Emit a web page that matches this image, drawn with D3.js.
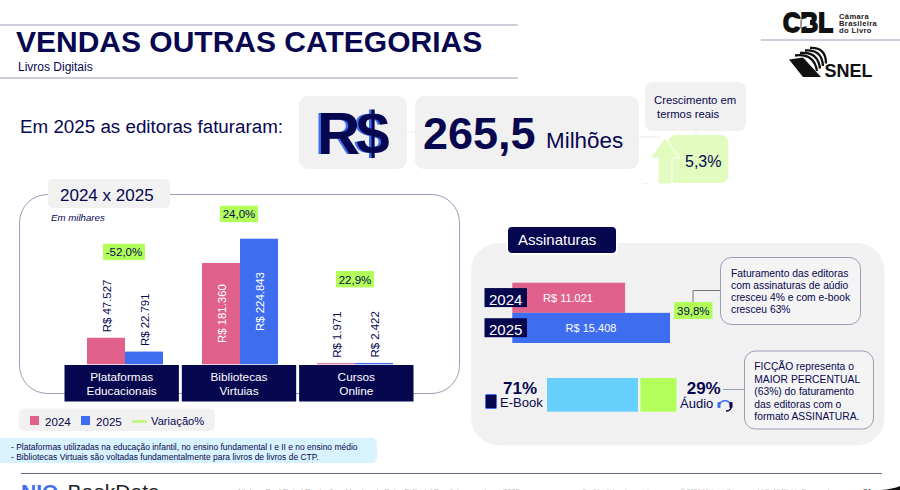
<!DOCTYPE html>
<html>
<head>
<meta charset="utf-8">
<script src="https://cdn.jsdelivr.net/npm/d3@7"></script>
<style>
  html, body { margin: 0; padding: 0; background: #fff; overflow: hidden; }
  svg { display: block; }
  text { font-family: "Liberation Sans", Arial, sans-serif; fill: #0a0a50; }
</style>
</head>
<body>
<div id="container"></div>
<script>
// data
var categories = ['Plataformas Educacionais', 'Bibliotecas Virtuais', 'Cursos Online'];
var categoryLines = [['Plataformas', 'Educacionais'], ['Bibliotecas', 'Virtuias'], ['Cursos', 'Online']];
var years = ['2024', '2025'];
var values2024 = [47527, 181360, 1971];
var values2025 = [22791, 224843, 2422];
var labels2024 = ['R$ 47.527', 'R$ 181.360', 'R$ 1.971'];
var labels2025 = ['R$ 22.791', 'R$ 224.843', 'R$ 2.422'];
var variation = ['-52,0%', '24,0%', '22,9%'];
var subsYears = ['2024', '2025'];
var subsValues = [11021, 15408];
var subsLabels = ['R$ 11.021', 'R$ 15.408'];
var formats = ['E-Book', 'Áudio'];
var formatShares = [71, 29];
var legendItems = ['2024', '2025', 'Variação%'];

var navy = '#07074f', pink = '#e0628c', blue = '#3e6df0', lime = '#b2ff59', sky = '#66cffc', panel = '#f1f1f1', rule = '#9c9cba';

var svg = d3.select('div#container').append('svg').attr('width', 900).attr('height', 490);

function box(x, y, w, h, r, fill, stroke) {
  return svg.append('rect').attr('x', x).attr('y', y).attr('width', w).attr('height', h).attr('rx', r)
    .attr('fill', fill).attr('stroke', stroke || 'none');
}
function label(x, y, str, size, opts) {
  opts = opts || {};
  return svg.append('text').attr('x', x).attr('y', y).text(str).style('font-size', size + 'px')
    .attr('text-anchor', opts.anchor || 'start').style('font-weight', opts.weight || 'normal')
    .style('font-style', opts.style || 'normal').style('fill', opts.fill || navy);
}
function line(x1, y1, x2, y2, color, w) {
  svg.append('line').attr('x1', x1).attr('y1', y1).attr('x2', x2).attr('y2', y2)
    .attr('stroke', color || rule).attr('stroke-width', w || 1);
}

// header
line(0, 25, 518, 25, rule, 1.2);
line(0, 78, 518, 78, rule, 1.2);
label(16, 52, 'VENDAS OUTRAS CATEGORIAS', 30, {weight: 'bold'});
label(18, 71, 'Livros Digitais', 12);
line(761, 40, 900, 40, rule, 1.2);

// CBL logo
label(783, 32, 'CBL', 27, {weight: 'bold', fill: '#111'})
  .attr('textLength', 50).attr('lengthAdjust', 'spacingAndGlyphs')
  .style('stroke', '#111').style('stroke-width', 1.8);
svg.append('path').attr('fill', '#fff').attr('d', 'M792 19Q797 17 801 20Q805 17 810 19L810 27Q805 25 801 28Q797 25 792 27Z');
line(801, 20, 801, 28, '#111', 0.8);
label(839, 19, 'Câmara', 7.6, {weight: 'bold', fill: '#222'}).style('letter-spacing', '0.35px');
label(839, 26, 'Brasileira', 7.6, {weight: 'bold', fill: '#222'}).style('letter-spacing', '0.35px');
label(839, 33, 'do Livro', 7.6, {weight: 'bold', fill: '#222'}).style('letter-spacing', '0.35px');
// SNEL logo
svg.append('path').attr('fill', '#111').attr('d', 'M789 59.5L803 57.5L821 77L803 77Z');
[0, 1, 2, 3].forEach(function(i) {
  svg.append('path').attr('fill', 'none').attr('stroke', '#111').attr('stroke-width', 2.3)
    .attr('d', 'M' + (795 + i * 5) + ' ' + (55.5 - i * 2.5) + 'Q' + (814 + i * 4) + ' ' + (53 - i * 2) + ' ' + (817 + i * 3) + ' ' + (71 - i * 2.5));
});
label(824.5, 76.7, 'SNEL', 18, {weight: 'bold', fill: '#111'});

// headline figures
label(20, 133, 'Em 2025 as editoras faturaram:', 18.8);
line(406, 132, 416, 132, panel, 1.5);
line(638, 137, 660, 137, panel, 1.5);
line(696, 130, 696, 135, panel, 1.5);
line(642, 183.5, 648, 183.5, panel, 1);
box(299, 96, 108, 73, 9, panel);
box(415, 96, 224, 73, 9, panel);
label(314.5, 154, 'R$', 60, {weight: 'bold', fill: blue}).style('letter-spacing', '-4px');
label(317, 154, 'R$', 60, {weight: 'bold'}).style('letter-spacing', '-4px');
label(423, 148.5, '265,5', 45, {weight: 'bold'});
label(546, 148, 'Milhões', 22.4);
box(645, 82, 101, 49, 8, panel);
label(654, 103.5, 'Crescimento em', 11.3);
label(657, 117.5, 'termos reais', 11.3);
box(668, 135, 60.5, 48, 8, '#e2fcc0');
svg.append('path').attr('fill', '#e2fcc0').attr('stroke', '#fff').attr('stroke-width', 1)
  .attr('d', 'M665 138L680 158L672 158L672 184L658 184L658 158L650 158Z');
label(685, 166.7, '5,3%', 16);

// 2024 x 2025 panel
box(19.5, 194.5, 440, 199, 28, '#fff', rule);
box(48, 179, 122, 29, 5, panel);
label(60, 201, '2024 x 2025', 17);
label(51, 221, 'Em milhares', 9.7, {style: 'italic'});

var x0 = d3.scaleBand().domain(categories).range([67.5, 412.5]);
var x1 = d3.scaleBand().domain(years).range([19.5, 95.5]);
var y = d3.scaleLinear().domain([0, 224843]).range([364.3, 238.7]);
var yearColor = d3.scaleOrdinal().domain(years).range([pink, blue]);

categories.forEach(function(cat, i) {
  var cells = [
    {year: '2024', value: values2024[i], text: labels2024[i]},
    {year: '2025', value: values2025[i], text: labels2025[i]}
  ];
  var g = svg.append('g').attr('transform', 'translate(' + x0(cat) + ',0)');
  g.selectAll('rect').data(cells).enter().append('rect')
    .attr('x', function(d) { return x1(d.year); })
    .attr('y', function(d) { return y(d.value); })
    .attr('width', x1.bandwidth())
    .attr('height', function(d) { return y(0) - y(d.value); })
    .attr('fill', function(d) { return yearColor(d.year); });
  g.selectAll('text').data(cells).enter().append('text')
    .attr('transform', function(d) {
      var cx = x1(d.year) + x1.bandwidth() / 2 + 4.5;
      // tall bars carry the label inside, short ones above
      var py = d.value > 100000 ? (y(d.value) + y(0)) / 2 : y(d.value) - 5.5;
      return 'translate(' + cx + ',' + py + ') rotate(-90)';
    })
    .attr('text-anchor', function(d) { return d.value > 100000 ? 'middle' : 'start'; })
    .style('font-size', '11.4px')
    .style('fill', function(d) { return d.value > 100000 ? '#fff' : navy; })
    .text(function(d) { return d.text; });
});

// category boxes
var xBox = d3.scaleBand().domain(categories).range([64.5, 413.5]).paddingInner(0.025);
var catG = svg.selectAll('g.cat').data(categories).enter().append('g').attr('class', 'cat')
  .attr('transform', function(d) { return 'translate(' + xBox(d) + ',0)'; });
catG.append('rect').attr('y', 365).attr('width', xBox.bandwidth()).attr('height', 36.5).attr('fill', navy);
catG.each(function(d, i) {
  var g = d3.select(this);
  categoryLines[i].forEach(function(t, j) {
    g.append('text').attr('x', xBox.bandwidth() / 2).attr('y', 381 + j * 14).attr('text-anchor', 'middle')
      .style('font-size', '11.8px').style('fill', '#fff').text(t);
  });
});

// variation tags
var tagX = [124, 239, 355], tagY = [251.7, 213.7, 279];
variation.forEach(function(v, i) {
  var w = i === 0 ? 42 : 38;
  box(tagX[i] - w / 2, tagY[i] - 8, w, 16.4, 0, lime);
  label(tagX[i], tagY[i] + 4.5, v, 11.5, {anchor: 'middle'});
});

// legend
box(19, 408.5, 196, 22.5, 5, panel);
box(30, 416, 9, 9, 0, pink);
label(45, 426, legendItems[0], 11.6);
box(81, 416, 9, 9, 0, blue);
label(96, 426, legendItems[1], 11.6);
box(132, 420, 15, 3, 0, '#c4f58c');
label(151, 425, legendItems[2], 11.2);

// notes
box(-10, 438, 387, 25, 5, '#d9f3fe');
label(11, 450, '- Plataformas utilizadas na educação infantil, no ensino fundamental I e II e no ensino médio', 8.47);
label(11, 460, '- Bibliotecas Virtuais são voltadas fundamentalmente para livros de livros de CTP.', 8.5);

// assinaturas panel
box(471, 243, 413.5, 202.5, 28, panel);
box(507, 226, 110, 28, 5, navy, '#fff').attr('stroke-width', 2);
label(518, 245, 'Assinaturas', 15, {fill: '#fff'});

var xs = d3.scaleLinear().domain([0, 15408]).range([512.3, 670]);
var ys = d3.scaleBand().domain(subsYears).range([282.7, 343]);
svg.selectAll('rect.subs').data(subsValues).enter().append('rect').attr('class', 'subs')
  .attr('x', xs(0))
  .attr('y', function(d, i) { return ys(subsYears[i]); })
  .attr('width', function(d) { return xs(d) - xs(0); })
  .attr('height', ys.bandwidth())
  .attr('fill', function(d, i) { return yearColor(subsYears[i]); });
var subsLabelX = [568, 591];
subsYears.forEach(function(yr, i) {
  var yy = ys(yr) + ys.bandwidth() / 2;
  box(484.5, yy - 9.7, 42.5, 19, 0, navy);
  label(505.7, yy + 7, yr, 15, {anchor: 'middle', fill: '#fff'});
  label(subsLabelX[i], yy + 4.5, subsLabels[i], 11, {anchor: 'middle', fill: '#fff'});
});
box(674, 302, 38.5, 17, 0, lime);
label(693.3, 314.8, '39,8%', 11.5, {anchor: 'middle'});
line(693, 302, 693, 290.5, '#777', 1);
line(693, 290.5, 720, 290.5, '#777', 1);
box(720.5, 257.5, 140, 67, 11, '#f4f4f4', rule);
['Faturamento das editoras', 'com assinaturas de aúdio', 'cresceu 4% e com e-book', 'cresceu 63%'].forEach(function(t, i) {
  label(731, 277 + i * 12.1, t, 10.3);
});

// e-book x audio
var xf = d3.scaleLinear().domain([0, 100]).range([547, 676.5]);
var acc = 0;
formatShares.forEach(function(v, i) {
  svg.append('rect').attr('x', xf(acc) + (i ? 1.5 : 0)).attr('y', 378).attr('width', xf(v) - xf(0) - (i ? 1.5 : 1)).attr('height', 33.7)
    .attr('fill', i === 0 ? sky : lime);
  acc += v;
});
label(520, 394, formatShares[0] + '%', 17, {anchor: 'middle', weight: 'bold'});
label(500, 406.7, formats[0], 13);
box(485.5, 394.5, 11, 14, 1, navy, blue);
label(686.7, 394, formatShares[1] + '%', 17, {weight: 'bold'});
label(680, 408, formats[1], 13);
svg.append('path').attr('fill', 'none').attr('stroke', blue).attr('stroke-width', 1.4)
  .attr('d', 'M719 405A6.5 7 0 0 1 731 405');
svg.append('path').attr('fill', 'none').attr('stroke', navy).attr('stroke-width', 1.4)
  .attr('d', 'M731 405L731 408Q730 411 726 411');
box(717.5, 402, 3, 6, 1, blue);
box(729.5, 402, 3, 6, 1, navy);
line(723, 389.5, 744, 389.5, rule, 1);
box(744.5, 351, 129, 78, 11, '#f4f4f4', rule);
['FICÇÃO representa o', 'MAIOR PERCENTUAL', '(63%) do faturamento', 'das editoras com o', 'formato ASSINATURA.'].forEach(function(t, i) {
  label(754.3, 370 + i * 12.5, t, 10.3);
});

// footer
line(21, 473.5, 882, 473.5, '#66668e', 1.2);
label(21, 499, 'NIQ', 21, {weight: 'bold', fill: blue});
label(67.5, 499, 'BookData', 21, {fill: '#222'});
label(238, 493.5, 'Nielsen BookData | Produção e Vendas do Setor Editorial Brasileiro, ano base 2025', 8, {fill: '#b8b8b8'})
  .attr('textLength', 282);
label(581.5, 493.5, 'Confidential and proprietary', 6.5, {fill: '#c4c4c4'}).attr('textLength', 76);
label(680, 493.5, '© 2026 Nielsen Consumer LLC. All Rights Reserved.', 6.5, {fill: '#c4c4c4'}).attr('textLength', 151);
label(863, 494, '21', 8, {fill: '#333'});
svg.append('path').attr('fill', '#111').attr('d', 'M881 490Q893 489 900 486L900 490Z');
</script>
</body>
</html>
